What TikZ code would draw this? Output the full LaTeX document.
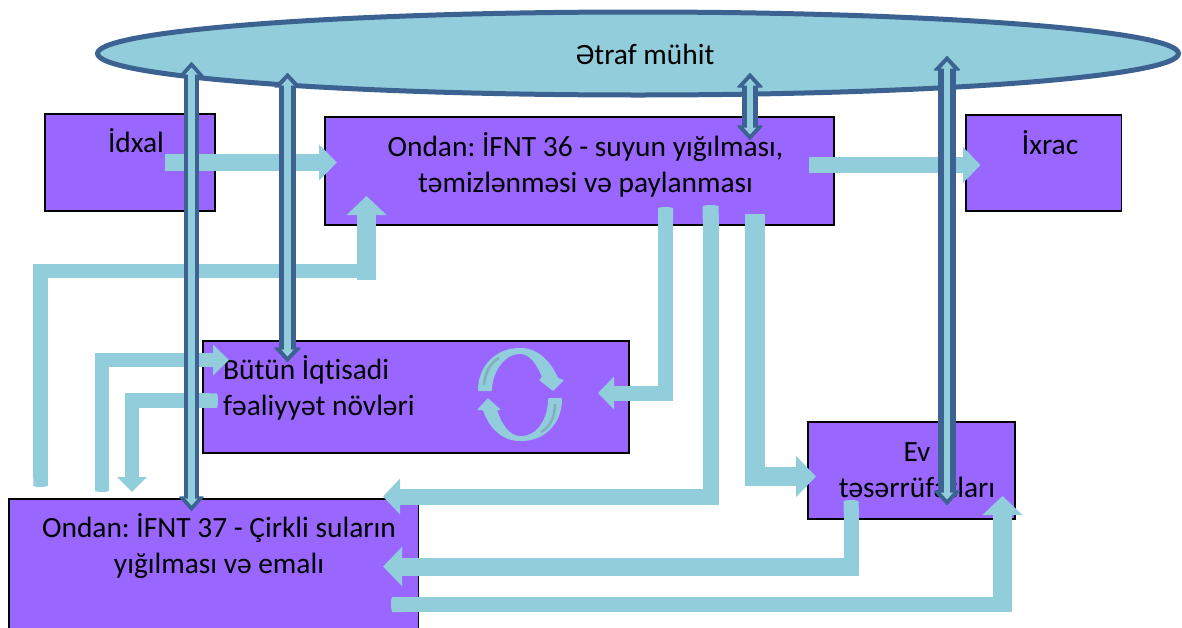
\documentclass[tikz,border=0pt]{standalone}
\usepackage{fontspec}
\setmainfont[Ligatures=NoCommon]{Carlito}
\frenchspacing
\usetikzlibrary{arrows.meta,shapes.geometric}
\definecolor{boxpurple}{HTML}{9966FF}
\definecolor{flow}{HTML}{92CDDC}
\definecolor{edge}{HTML}{3B6290}
\definecolor{stripe}{HTML}{7FB0BC}
\newcommand{\headed}[2]{Triangle[length=#1pt,width=#2pt]}
\newcommand{\dblflow}[4]{%
  \draw[draw=edge,line width=#3pt,{Triangle[length=15pt,width=#4pt,round,line width=1.5pt]}-{Triangle[length=15pt,width=#4pt,round,line width=1.5pt]}] (#1) -- (#2);
  \draw[draw=flow,line width=6.5pt,shorten <=5.5pt,shorten >=5.5pt,{Triangle[length=7pt,width=12pt]}-{Triangle[length=7pt,width=12pt]}] (#1) -- (#2);}
\tikzset{
  box/.style={draw=black,fill=boxpurple,line width=1.5pt,inner sep=0pt},
  label/.style={font=\fontsize{29.4pt}{34pt}\selectfont,text=black,inner sep=0pt},
  flowline/.style={draw=flow,line join=miter},
  softstart/.style={{Round Cap[length=1.5pt]}-},
}
\begin{document}
\begin{tikzpicture}[x=1pt,y=-1pt]
\useasboundingbox (0,0) rectangle (1182,627);
% environment
\node[ellipse,draw=edge,fill=flow,line width=5pt,inner sep=0pt,minimum width=1081pt,minimum height=83pt] (env) at (638,53.5) {};
% boxes
\node[box,minimum width=170pt,minimum height=97pt] (idxal) at (130,162.5) {};
\node[box,minimum width=509pt,minimum height=108pt] (src) at (579.5,171) {};
\node[box,minimum width=155.5pt,minimum height=96pt] (ixrac) at (1043.7,163) {};
\node[box,minimum width=426pt,minimum height=112pt] (eco) at (416,397) {};
\node[box,minimum width=409.5pt,minimum height=141pt] (waste) at (213.5,569.5) {};
\node[box,minimum width=207pt,minimum height=97pt] (home) at (911.5,470.5) {};
% labels
\node[label,anchor=base] (tenv) at (645,64) {Ətraf mühit};
\node[label,anchor=base] (tidxal) at (136,152) {İdxal};
\node[label,anchor=base] (tsrcA) at (585.5,156) {Ondan: İFNT 36 - suyun yığılması,};
\node[label,anchor=base] (tsrcB) at (585.5,192) {təmizlənməsi və paylanması};
\node[label,anchor=base] (tixrac) at (1050,154) {İxrac};
\node[label,anchor=base west] (tecoA) at (223,379) {Bütün İqtisadi};
\node[label,anchor=base west] (tecoB) at (223,415) {fəaliyyət növləri};
\node[label,anchor=base] (twasteA) at (219,537) {Ondan: İFNT 37 - Çirkli suların};
\node[label,anchor=base] (twasteB) at (219,573) {yığılması və emalı};
\node[label,anchor=base] (thomeA) at (917,461) {Ev};
\node[label,anchor=base] (thomeB) at (917,497) {təsərrüfatları};
% recycle icon
\fill[flow,rounded corners=1pt] (478,391) .. controls (478,365) and (497,348) .. (520,348)
  .. controls (538,348) and (551,362) .. (558,378) -- (564,380) -- (553,391) -- (539,380) -- (542,377)
  .. controls (536,362) and (528,354) .. (520,354) .. controls (505,354) and (492,372) .. (492,391) -- cycle;
\fill[flow,rounded corners=1pt] (562,398) .. controls (562,425) and (543,441) .. (521,441)
  .. controls (500,441) and (488,425) .. (483,410) -- (477,410) -- (488,398) -- (501,410) -- (497,410)
  .. controls (502,425) and (510,436) .. (521,436) .. controls (536,436) and (548,420) .. (548,398) -- cycle;
\draw[draw=stripe,line width=2.5pt] (484,385) .. controls (485,372) and (491,362) .. (499,358);
\draw[draw=stripe,line width=2.5pt] (555,404) .. controls (555,418) and (549,428) .. (541,432);
% named connector ends
\coordinate (a1) at (165,162.5); \coordinate (a2) at (337,162.5);
\coordinate (b1) at (809,165); \coordinate (b2) at (980.5,165);
\coordinate (c1) at (40.5,487); \coordinate (c2) at (40.5,271); \coordinate (c3) at (357,271);
\coordinate (c4) at (366.5,280); \coordinate (c5) at (366.5,196);
\coordinate (d1) at (102,492); \coordinate (d2) at (102,360); \coordinate (d3) at (229,360);
\coordinate (e1) at (218,400.5); \coordinate (e2) at (132,400.5); \coordinate (e3) at (132,492);
\coordinate (f1) at (665.5,207); \coordinate (f2) at (665.5,393); \coordinate (f3) at (598,393);
\coordinate (g1) at (710.5,205); \coordinate (g2) at (710.5,496.5); \coordinate (g3) at (383,496.5);
\coordinate (h1) at (755,214); \coordinate (h2) at (755,476.5); \coordinate (h3) at (816,476.5);
\coordinate (i1) at (851,500); \coordinate (i2) at (851,567); \coordinate (i3) at (859,566.5); \coordinate (i4) at (383,566.5);
\coordinate (j1) at (391,604.5); \coordinate (j2) at (1002,604.5); \coordinate (j3) at (1002.5,612); \coordinate (j4) at (1002.5,496);
% light connectors
\draw[flowline,line width=17pt,-{\headed{18}{35}}] (a1) -- (a2);
\draw[flowline,line width=16pt,-{\headed{17.5}{35}}] (b1) -- (b2);
\draw[flowline,line width=14.5pt,softstart] (c1) -- (c2) -- (c3);
\draw[flowline,line width=19pt,-{\headed{19}{39}}] (c4) -- (c5);
\draw[flowline,line width=14pt,{Round Cap[length=1.5pt]}-{\headed{16}{30}}] (d1) -- (d2) -- (d3);
\draw[flowline,line width=14.5pt,{Round Cap[length=1.5pt]}-{\headed{15}{29}}] (e1) -- (e2) -- (e3);
\draw[flowline,line width=15pt,{Round Cap[length=1.5pt]}-{\headed{16}{32}}] (f1) -- (f2) -- (f3);
\draw[flowline,line width=16pt,{Round Cap[length=1.5pt]}-{\headed{17}{35}}] (g1) -- (g2) -- (g3);
\draw[flowline,line width=19.5pt,-{\headed{20}{40}}] (h1) -- (h2) -- (h3);
\draw[flowline,line width=15pt,softstart] (i1) -- (i2);
\draw[flowline,line width=18pt,-{\headed{19}{38}}] (i3) -- (i4);
\draw[flowline,line width=15pt,softstart] (j1) -- (j2);
\draw[flowline,line width=19pt,-{\headed{19}{39}}] (j3) -- (j4);
% double connectors
\coordinate (k1) at (191.5,62); \coordinate (k2) at (191.5,511);
\coordinate (l1) at (287.5,73); \coordinate (l2) at (287.5,362);
\coordinate (m1) at (750,73); \coordinate (m2) at (750,140);
\coordinate (n1) at (947,56); \coordinate (n2) at (947,505);
\dblflow{k1}{k2}{15}{26}
\dblflow{l1}{l2}{17}{28}
\dblflow{m1}{m2}{16}{27}
\dblflow{n1}{n2}{17.5}{28}
\end{tikzpicture}
\end{document}
